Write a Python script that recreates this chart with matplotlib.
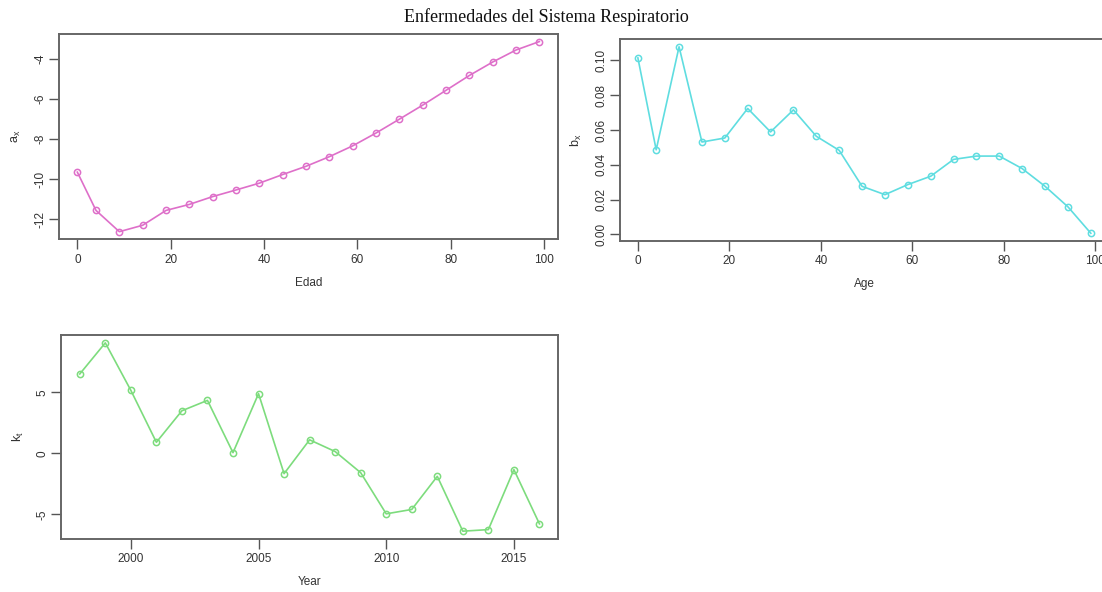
import matplotlib
matplotlib.use("Agg")
import matplotlib.pyplot as plt
import numpy as np

# data
edad = [0, 4, 9, 14, 19, 24, 29, 34, 39, 44, 49, 54, 59, 64, 69, 74, 79, 84, 89, 94, 99]
a_x = [-9.64, -11.55, -12.61, -12.29, -11.55, -11.25, -10.86, -10.53, -10.19, -9.76, -9.35,
       -8.87, -8.33, -7.69, -7.00, -6.30, -5.56, -4.82, -4.15, -3.55, -3.13]
b_x = [0.1015, 0.0486, 0.1079, 0.0531, 0.0554, 0.0724, 0.0589, 0.0716, 0.0564, 0.0483, 0.0276,
       0.0228, 0.0286, 0.0334, 0.0431, 0.0450, 0.0450, 0.0378, 0.0276, 0.0158, 0.0006]
years = list(range(1998, 2017))
k_t = [6.49, 9.04, 5.15, 0.90, 3.48, 4.33, 0.05, 4.88, -1.67, 1.10, 0.14, -1.59, -4.96,
       -4.60, -1.89, -6.38, -6.25, -1.34, -5.78]

plt.rcParams['font.family'] = ['Liberation Sans', 'DejaVu Sans']

fig = plt.figure(figsize=(11.02, 5.92), dpi=100)


def r_style(ax, x, y, color, xlabel, ylabel, xticks, yticks, yfmt):
    ax.plot(x, y, color=color, lw=1.2, marker='o', ms=4.5, mfc='none', mec=color, mew=1.1)
    xr = max(x) - min(x)
    yr = max(y) - min(y)
    ax.set_xlim(min(x) - 0.04 * xr, max(x) + 0.04 * xr)
    ax.set_ylim(min(y) - 0.04 * yr, max(y) + 0.04 * yr)
    ax.set_xticks(xticks)
    ax.set_yticks(yticks)
    ax.set_yticklabels([yfmt.format(v) for v in yticks], rotation=90, va='center')
    ax.tick_params(direction='out', length=7, width=1, color='#555555',
                   labelsize=8.5, labelcolor='#333333')
    ax.tick_params(axis='x', pad=3.5)
    ax.tick_params(axis='y', pad=2)
    for s in ax.spines.values():
        s.set_color('#666666')
        s.set_linewidth(1.4)
    ax.set_xlabel(xlabel, fontsize=8.5, color='#333333', labelpad=8)
    ax.set_ylabel(ylabel, fontsize=9, color='#333333', labelpad=8)


ax1 = fig.add_axes([0.0534, 0.5958, 0.4528, 0.3468])
r_style(ax1, edad, a_x, '#de6fc9', 'Edad', r'$\mathregular{a_x}$',
        [0, 20, 40, 60, 80, 100], [-12, -10, -8, -6, -4], '{:d}')

ax2 = fig.add_axes([0.5624, 0.5934, 0.4439, 0.3402])
r_style(ax2, edad, b_x, '#5fdde0', 'Age', r'$\mathregular{b_x}$',
        [0, 20, 40, 60, 80, 100], [0.0, 0.02, 0.04, 0.06, 0.08, 0.10], '{:.2f}')

ax3 = fig.add_axes([0.0557, 0.09, 0.4505, 0.3436])
r_style(ax3, years, k_t, '#7ddc7d', 'Year', r'$\mathregular{k_t}$',
        [2000, 2005, 2010, 2015], [-5, 0, 5], '{:d}')

fig.text(0.496, 0.972, 'Enfermedades del Sistema Respiratorio', ha='center', va='center',
         fontsize=13, family=['Liberation Serif', 'DejaVu Serif'], color='#111111')

fig.savefig('out.png', dpi=100)
